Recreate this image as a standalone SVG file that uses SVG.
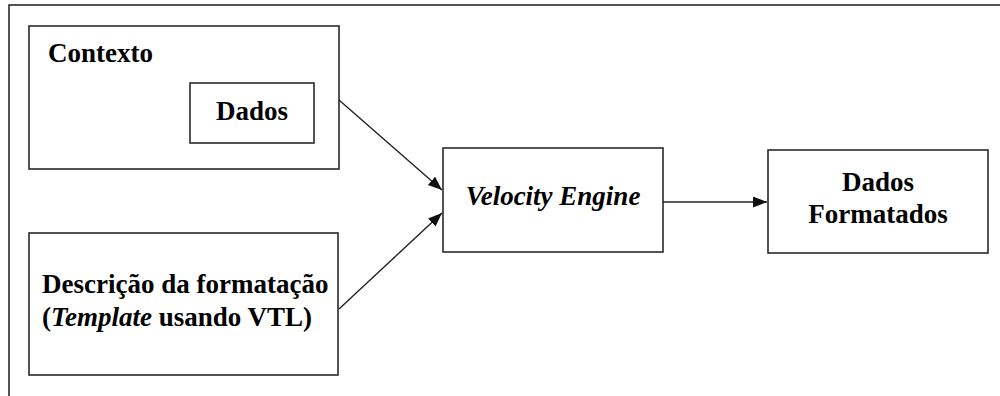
<svg xmlns="http://www.w3.org/2000/svg" width="1000" height="396" viewBox="0 0 1000 396">
  <style>
    .box { fill: #ffffff; stroke: #2a2a2a; stroke-width: 1.6; }
    .lbl { font-family: "Liberation Serif", "Times New Roman", serif; font-size: 27px; font-weight: bold; fill: #000; }
    .ital { font-style: italic; }
    .conn { stroke: #222; stroke-width: 1.4; fill: none; marker-end: url(#arrow); }
  </style>
  <defs>
    <marker id="arrow" markerUnits="userSpaceOnUse" markerWidth="15" markerHeight="12" refX="14" refY="5.5" orient="auto">
      <path d="M0,0 L14,5.5 L0,11 z" fill="#111"/>
    </marker>
  </defs>
  <rect x="0" y="0" width="1000" height="396" fill="#ffffff"/>
  <g id="frame">
    <rect x="9" y="5" width="1010" height="420" fill="none" stroke="#2a2a2a" stroke-width="1.6"/>
  </g>
  <g id="contexto">
    <rect class="box" x="29" y="26" width="310" height="143"/>
    <text class="lbl" x="48" y="62">Contexto</text>
  </g>
  <g id="dados">
    <rect class="box" x="190" y="83" width="124" height="60"/>
    <text class="lbl" x="252" y="120" text-anchor="middle">Dados</text>
  </g>
  <g id="descricao">
    <rect class="box" x="29" y="233" width="309" height="142"/>
    <text class="lbl" x="42" y="293">Descrição da formatação</text>
    <text class="lbl" x="42" y="326">(<tspan class="ital">Template</tspan> usando VTL)</text>
  </g>
  <g id="velocity">
    <rect class="box" x="443" y="148" width="220" height="104"/>
    <text class="lbl ital" x="553" y="205" text-anchor="middle">Velocity Engine</text>
  </g>
  <g id="formatados">
    <rect class="box" x="768" y="150" width="220" height="103"/>
    <text class="lbl" x="878" y="191" text-anchor="middle">Dados</text>
    <text class="lbl" x="878" y="223" text-anchor="middle">Formatados</text>
  </g>
  <g id="connectors">
    <line class="conn" x1="339" y1="100" x2="442" y2="190"/>
    <line class="conn" x1="339" y1="309" x2="442" y2="213"/>
    <line class="conn" x1="663" y1="202" x2="767" y2="202"/>
  </g>
</svg>
